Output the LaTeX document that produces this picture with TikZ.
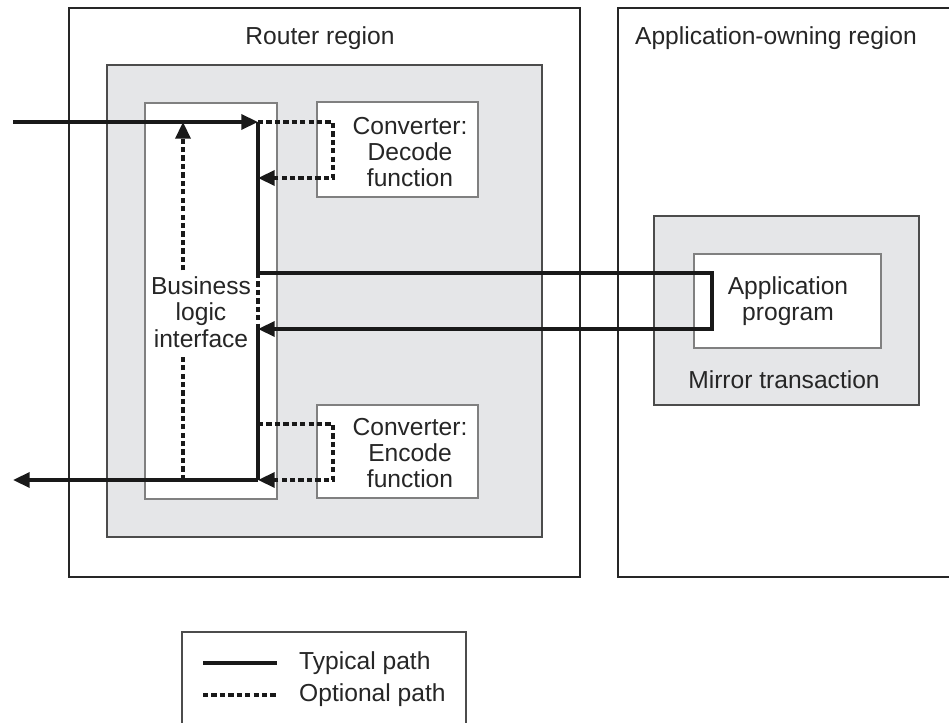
\documentclass[tikz,border=0pt]{standalone}
\usepackage{fontspec}
\setmainfont{Liberation Sans}
\usetikzlibrary{arrows.meta,fit}

\definecolor{boxgrey}{RGB}{229,230,232}
\tikzset{
  region/.style={draw=black!85, line width=0.9pt, inner sep=0pt},
  greybox/.style={draw=black!70, fill=boxgrey, line width=0.9pt, inner sep=0pt},
  whitebox/.style={draw=black!50, fill=white, line width=0.9pt, inner sep=0pt},
  label/.style={font=\fontsize{14}{15}\selectfont, align=center, text=black!85},
  typical/.style={line width=2pt, draw=black!90},
  optional/.style={line width=2pt, draw=black!90, dash pattern=on 3pt off 1.8pt},
  tip/.style={-{Triangle[length=9.5pt,width=8.5pt]}}
}

\begin{document}
\begin{tikzpicture}[x=0.2mm, y=-0.2mm]
  \path[fill=white, use as bounding box] (0,0) rectangle (949,723);

  % regions
  \node[region, fit={(69,8) (580,577)}] (router) {};
  \node[region, fit={(618,8) (965,577)}] (owner) {};
  \node[label] (routertitle) at (320,38) {Router region};
  \node[label] (ownertitle) at (776,38) {Application-owning region};

  % router side
  \node[greybox, fit={(107,65) (542,537)}] (routerbox) {};
  \node[whitebox, fit={(145,103) (277,499)}] (bli) {};
  \node[whitebox, fit={(317,102) (478,197)}] (decode) {};
  \node[whitebox, fit={(317,405) (478,498)}] (encode) {};
  \node[label] (decodetext) at (410,152) {Converter:\\Decode\\function};
  \node[label] (encodetext) at (410,453) {Converter:\\Encode\\function};

  % owning side
  \node[greybox, fit={(654,216) (919,405)}] (mirror) {};
  \node[whitebox, fit={(694,254) (881,348)}] (program) {};
  \node[label] (programtext) at (788,301) {Application\\program};
  \node[label] (mirrortext) at (784,380) {Mirror transaction};

  \node[label, inner xsep=1pt] (blitext) at (201,312) {Business\\logic\\interface};

  % path points
  \coordinate (src) at (13,122);
  \coordinate (sink) at (13,480);
  \coordinate (jIn) at (258,122);
  \coordinate (jOut) at (258,480);
  \coordinate (decTurn) at (333,178);
  \coordinate (decRet) at (258,178);
  \coordinate (encOut) at (258,424);
  \coordinate (encTurn) at (333,480);
  \coordinate (appOut) at (258,273);
  \coordinate (appTurn) at (712,329);
  \coordinate (appRet) at (258,329);
  \coordinate (bliBase) at (183,480);

  % typical path
  \draw[typical, tip] (src) -- (jIn);
  \draw[typical] (jIn) -- (appOut);
  \draw[typical, tip] (appOut) -- (appOut -| appTurn) -- (appTurn) -- (appRet);
  \draw[typical] (appRet) -- (jOut);
  \draw[typical, tip] (jOut) -- (sink);

  % optional path
  \draw[optional] (appOut) -- (appRet);
  \draw[optional, tip] (jIn) -- (jIn -| decTurn) -- (decTurn) -- (decRet);
  \draw[optional, tip] (encOut) -- (encOut -| encTurn) -- (encTurn) -- (jOut);
  \draw[optional] (bliBase) -- (bliBase |- blitext.south);
  \draw[optional, tip] (bliBase |- blitext.north) -- (bliBase |- jIn);

  % legend
  \node[region, draw=black!70, fit={(182,632) (466,740)}] (legend) {};
  \coordinate (typA) at (203,663);
  \coordinate (typB) at (277,663);
  \coordinate (optA) at (203,695);
  \coordinate (optB) at (277,695);
  \draw[typical] (typA) -- (typB);
  \draw[optional] (optA) -- (optB);
  \node[label, anchor=west] (typtext) at (293,663) {Typical path};
  \node[label, anchor=west] (opttext) at (293,695) {Optional path};
\end{tikzpicture}
\end{document}
